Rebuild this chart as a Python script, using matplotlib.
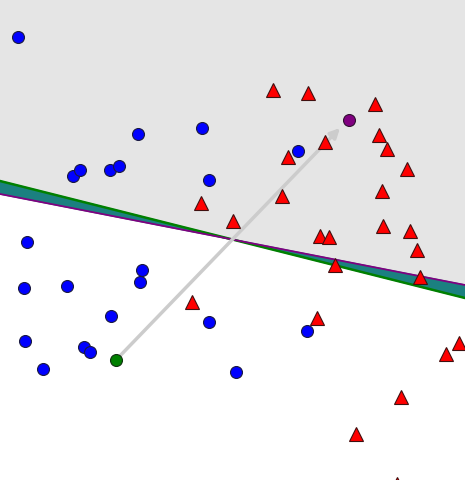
import numpy as np
import matplotlib.pyplot as plt

# Points (pixel-like coordinates, y grows downward)
blue_x = [18, 138, 202, 73, 80, 110, 119, 209, 298, 27, 142, 140, 24, 67, 111, 209, 307, 25, 84, 90, 43, 236]
blue_y = [37, 134, 128, 176, 170, 170, 166, 180, 151, 242, 270, 282, 288, 286, 316, 322, 331, 341, 347, 352, 369, 372]

red_x = [273, 308, 375, 325, 288, 379, 387, 407, 382, 282, 201, 233, 383, 410, 320, 329, 417, 335, 420, 192, 317, 446, 459, 401, 356, 397]
red_y = [90, 93, 104, 142, 157, 135, 149, 169, 191, 196, 203, 221, 226, 231, 236, 237, 250, 265, 277, 302, 318, 354, 343, 397, 434, 484]

start_pt = (116, 360)
end_pt = (349, 120)
arrow_tip = (340, 128)

# Two boundary lines (endpoints)
line_x = [0, 465]
green_y = [181, 298]
purple_y = [194, 285]

fig = plt.figure(figsize=(4.65, 4.8), dpi=100)
ax = fig.add_axes([0, 0, 1, 1])

xs = np.array(line_x, dtype=float)
gy = np.array(green_y, dtype=float)
py = np.array(purple_y, dtype=float)

# gray region above the purple line, teal band between the two lines on top
ax.fill_between(xs, -10, py, color="#e5e5e5", zorder=0)
ax.fill_between(xs, gy, py, color="#1b8080", zorder=1)
ax.plot(xs, gy, color="green", linewidth=1.8, zorder=2)
ax.plot(xs, py, color="purple", linewidth=1.3, zorder=2)

ax.annotate("", xy=arrow_tip, xytext=start_pt,
            arrowprops=dict(arrowstyle="-|>", color="#cccccc", lw=2.5,
                            mutation_scale=14, shrinkA=0, shrinkB=0),
            zorder=3)

ax.plot(blue_x, blue_y, "o", color="blue", markeredgecolor="#1a1a40",
        markersize=8.6, markeredgewidth=0.8, zorder=4)
ax.plot(red_x, red_y, "^", color="red", markeredgecolor="#401010",
        markersize=9.5, markeredgewidth=0.8, zorder=4)
ax.plot(*start_pt, "o", color="green", markeredgecolor="#103010",
        markersize=8.6, markeredgewidth=0.8, zorder=5)
ax.plot(*end_pt, "o", color="purple", markeredgecolor="#301030",
        markersize=8.6, markeredgewidth=0.8, zorder=5)

ax.set_xlim(0, 465)
ax.set_ylim(480, 0)
ax.axis("off")

fig.savefig("out.png", dpi=100)
